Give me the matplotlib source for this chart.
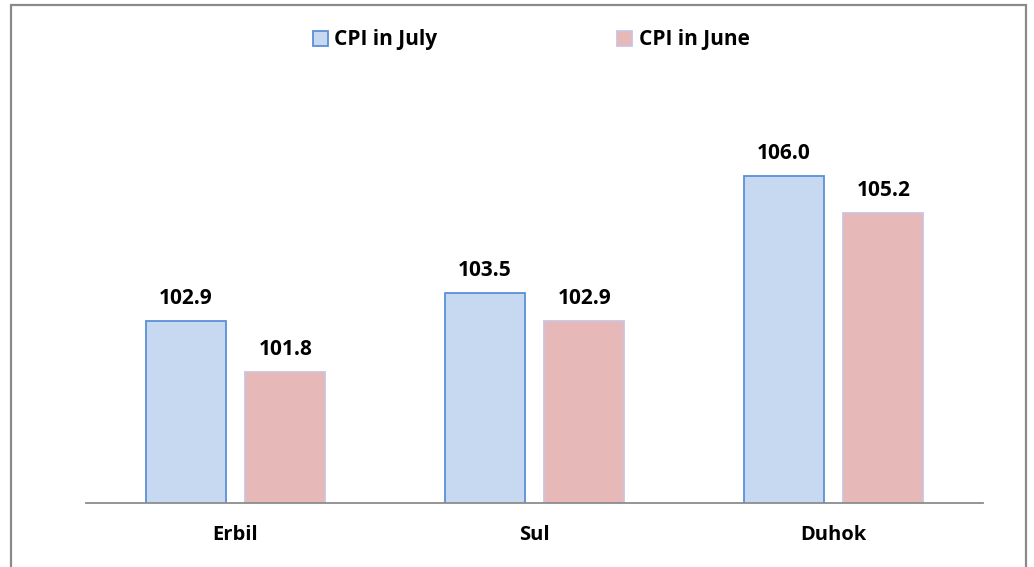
import numpy as np
from matplotlib import pyplot as plt
from matplotlib.patches import Rectangle, Patch

regions = ['Erbil', 'Sul', 'Duhok']
cpi_july = [102.9, 103.5, 106.0]
cpi_june = [101.8, 102.9, 105.2]
series_names = ['CPI in July', 'CPI in June']

plt.rcParams['font.family'] = ['Open Sans', 'DejaVu Sans']

W, H = 1034, 567
fig = plt.figure(figsize=(W / 100, H / 100), dpi=100)
ax = fig.add_axes([86 / W, 64 / H, 897 / W, (503 - 129) / H])

x = np.arange(len(regions))
bw = 0.268
off = 0.167
july_fill, july_edge = '#C6D9F1', '#5B8FD9'
june_fill, june_edge = '#E6B8B7', '#CDC3DE'

b1 = ax.bar(x - off, cpi_july, bw, color=july_fill, edgecolor=july_edge, linewidth=1.3, zorder=2)
b2 = ax.bar(x + off, cpi_june, bw, color=june_fill, edgecolor=june_edge, linewidth=1.3, zorder=2)

for bars, vals in ((b1, cpi_july), (b2, cpi_june)):
    for b, v in zip(bars, vals):
        ax.annotate(f'{v:.1f}', (b.get_x() + b.get_width() / 2, v), xytext=(0, 8.5),
                    textcoords='offset points', ha='center', va='bottom',
                    fontsize=15, fontweight='bold')

ax.set_xlim(-0.5, len(regions) - 0.5)
ax.set_ylim(99, 107)
ax.set_yticks([])
ax.set_xticks(x)
ax.set_xticklabels(regions, fontsize=14.5, fontweight='bold')
ax.tick_params(axis='x', length=0, pad=16)
for s in ('top', 'right', 'left'):
    ax.spines[s].set_visible(False)
ax.spines['bottom'].set_color('#8C8C8C')
ax.spines['bottom'].set_linewidth(1.3)

handles = [Patch(facecolor=july_fill, edgecolor=july_edge, linewidth=1.3),
           Patch(facecolor=june_fill, edgecolor=june_edge, linewidth=1.3)]
leg = fig.legend(handles, series_names, loc='center', bbox_to_anchor=(531 / W, 1 - 40 / H),
                 ncol=2, frameon=False, columnspacing=8.6, handlelength=0.75, handleheight=0.75,
                 handletextpad=0.3, borderpad=0, prop={'size': 15, 'weight': 'bold'})

fig.patches.append(Rectangle((11 / W, -0.05), (1026 - 11) / W, 1.05 - 5 / H, transform=fig.transFigure,
                             fill=False, edgecolor='#8A8A8A', linewidth=1.6))

fig.savefig('out.png', dpi=100)
